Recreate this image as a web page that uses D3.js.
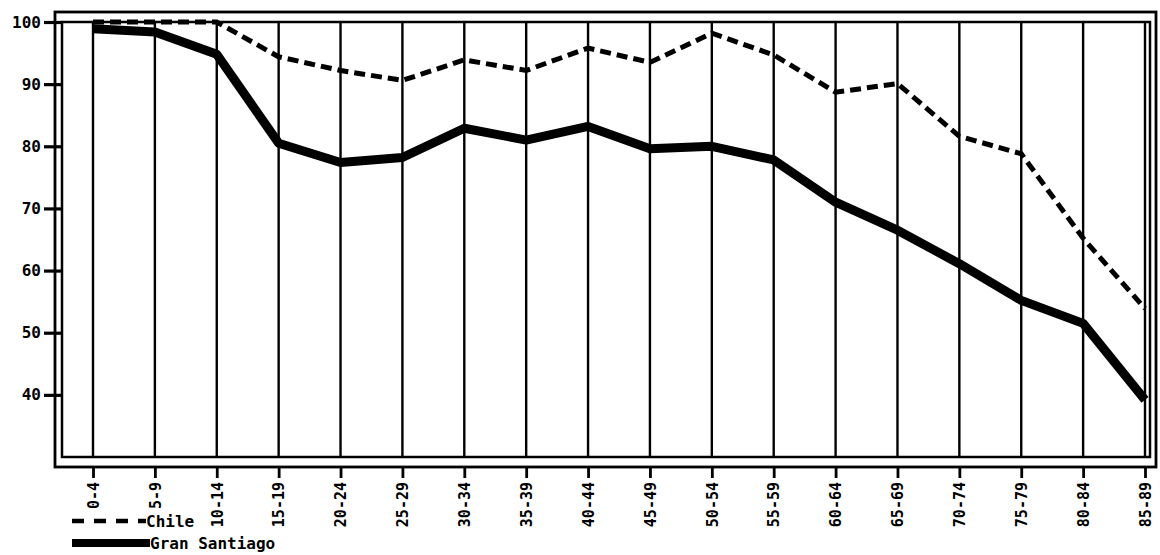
<!DOCTYPE html>
<html>
<head>
<meta charset="utf-8">
<script src="https://cdn.jsdelivr.net/npm/d3@7"></script>
<style>
  body { margin: 0; background: #fff; }
  svg text { font-family: "DejaVu Sans Mono", "Liberation Mono", monospace; font-weight: bold; fill: #000; }
</style>
</head>
<body>
<div id="chart"></div>
<script>
// age groups (x categories)
const ageGroups = ["0-4", "5-9", "10-14", "15-19", "20-24", "25-29", "30-34", "35-39", "40-44",
  "45-49", "50-54", "55-59", "60-64", "65-69", "70-74", "75-79", "80-84", "85-89"];

// series
const chileValues = [100, 100, 100, 94.4, 92.2, 90.6, 93.9, 92.2, 95.8, 93.5, 98.2, 94.7, 88.7, 90.1, 81.6, 78.8, 65.2, 53.9];
const santiagoValues = [98.9, 98.4, 94.8, 80.5, 77.4, 78.2, 82.9, 81.0, 83.2, 79.6, 80.0, 77.8, 71.0, 66.5, 61.1, 55.2, 51.5, 39.2];

const yTicks = [40, 50, 60, 70, 80, 90, 100];

const width = 1160, height = 555;

// inner and outer frame of the plot
const inner = { left: 62, right: 1150, top: 22, bottom: 457 };
const outer = { left: 55, right: 1156, top: 12, bottom: 467 };

const svg = d3.select("#chart").append("svg")
  .attr("width", width)
  .attr("height", height);

const x = d3.scalePoint()
  .domain(ageGroups)
  .range([93, 1145]);

const y = d3.scaleLinear()
  .domain([30, 100])
  .range([inner.bottom, inner.top]);

// double frame
svg.append("rect")
  .attr("x", outer.left).attr("y", outer.top)
  .attr("width", outer.right - outer.left).attr("height", outer.bottom - outer.top)
  .attr("fill", "none").attr("stroke", "#000").attr("stroke-width", 2.8);
svg.append("rect")
  .attr("x", inner.left).attr("y", inner.top)
  .attr("width", inner.right - inner.left).attr("height", inner.bottom - inner.top)
  .attr("fill", "none").attr("stroke", "#000").attr("stroke-width", 2.5);

// vertical grid lines at each age group
svg.append("g")
  .selectAll("line")
  .data(ageGroups)
  .join("line")
  .attr("x1", d => x(d)).attr("x2", d => x(d))
  .attr("y1", inner.top).attr("y2", inner.bottom)
  .attr("stroke", "#000").attr("stroke-width", 2.4);

// x axis below the outer frame
const xAxis = svg.append("g")
  .attr("transform", `translate(0,${outer.bottom})`)
  .call(d3.axisBottom(x).tickSize(11).tickPadding(4));
xAxis.select(".domain").remove();
xAxis.selectAll(".tick line").attr("stroke", "#000").attr("stroke-width", 2.8);
xAxis.selectAll(".tick text")
  .attr("transform", "rotate(-90)")
  .attr("x", -15).attr("y", 0).attr("dy", "0.35em")
  .style("text-anchor", "end")
  .style("font-size", "15px");

// y axis on the left
const yAxis = svg.append("g")
  .attr("transform", `translate(${inner.left},0)`)
  .call(d3.axisLeft(y).tickValues(yTicks).tickSize(18).tickPadding(4));
yAxis.select(".domain").remove();
yAxis.selectAll(".tick line").attr("stroke", "#000").attr("stroke-width", 3.2);
yAxis.selectAll(".tick text")
  .style("font-size", "16px")
  .attr("x", -21);

const line = d3.line()
  .x((d, i) => x(ageGroups[i]))
  .y(d => y(d));

// Chile: dashed
svg.append("path")
  .datum(chileValues)
  .attr("d", line)
  .attr("fill", "none")
  .attr("stroke", "#000")
  .attr("stroke-width", 5)
  .attr("stroke-dasharray", "11,6");

// Gran Santiago: thick solid
svg.append("path")
  .datum(santiagoValues)
  .attr("d", line)
  .attr("fill", "none")
  .attr("stroke", "#000")
  .attr("stroke-width", 9)
  .attr("stroke-linejoin", "round");

// legend
const legend = svg.append("g");
legend.append("line")
  .attr("x1", 72).attr("x2", 146).attr("y1", 521).attr("y2", 521)
  .attr("stroke", "#000").attr("stroke-width", 4.5).attr("stroke-dasharray", "12,10");
legend.append("text")
  .attr("x", 146).attr("y", 527)
  .style("font-size", "16px")
  .text("Chile");
legend.append("line")
  .attr("x1", 72).attr("x2", 150).attr("y1", 543).attr("y2", 543)
  .attr("stroke", "#000").attr("stroke-width", 8);
legend.append("text")
  .attr("x", 150).attr("y", 549)
  .style("font-size", "16px")
  .text("Gran Santiago");
</script>
</body>
</html>
